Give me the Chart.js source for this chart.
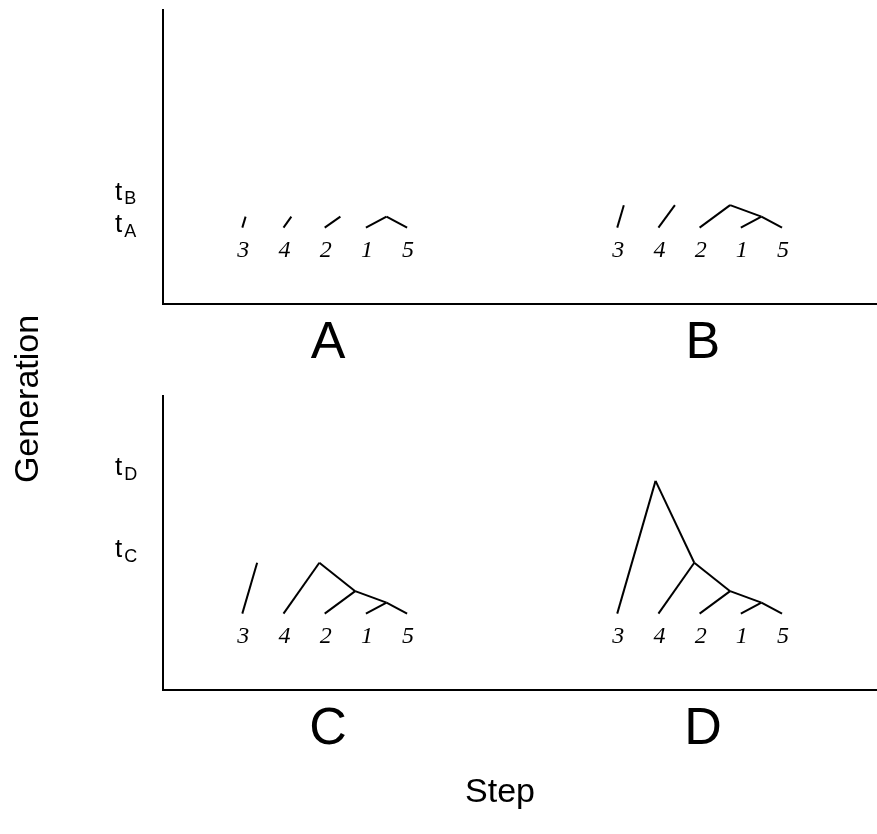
<!DOCTYPE html>
<html>
<head>
<meta charset="utf-8">
<title>Coalescent tree snapshots</title>
<script src="https://cdn.jsdelivr.net/npm/chart.js@4.4.1/dist/chart.umd.min.js"></script>
<style>
  html, body { margin: 0; padding: 0; background: #fff; }
  #wrap { position: relative; width: 877px; height: 834px; }
  #wrap canvas { position: absolute; left: 0; top: 0; }
</style>
</head>
<body>
<div id="wrap">
  <canvas id="upper" width="877" height="834"></canvas>
  <canvas id="lower" width="877" height="834"></canvas>
</div>
<script>
// Sample labels in the order they sit along the step axis
const leafLabels = ['3', '4', '2', '1', '5'];
const leafSlots = [1, 2, 3, 4, 5];

// Snapshot names and the generation each snapshot is taken at
const snapshotNames = ['A', 'B', 'C', 'D'];
const snapshotTimes = [1.1, 2.25, 5.1, 13.3];

// Lineages present in each snapshot: [slotFrom, genFrom, slotTo, genTo]
const branchesA = [
  [1, 0, 1.08, 1.1],
  [2, 0, 2.19, 1.1],
  [3, 0, 3.38, 1.1],
  [4, 0, 4.5, 1.1],
  [5, 0, 4.5, 1.1]
];
const branchesB = [
  [1, 0, 1.16, 2.25],
  [2, 0, 2.4, 2.25],
  [3, 0, 3.74, 2.25],
  [4, 0, 4.5, 1.1],
  [5, 0, 4.5, 1.1],
  [4.5, 1.1, 3.74, 2.25]
];
const branchesC = [
  [1, 0, 1.36, 5.1],
  [2, 0, 2.87, 5.1],
  [3, 0, 3.74, 2.25],
  [3.74, 2.25, 2.87, 5.1],
  [4, 0, 4.5, 1.1],
  [5, 0, 4.5, 1.1],
  [4.5, 1.1, 3.74, 2.25]
];
const branchesD = [
  [1, 0, 1.93, 13.3],
  [2, 0, 2.87, 5.1],
  [2.87, 5.1, 1.93, 13.3],
  [3, 0, 3.74, 2.25],
  [3.74, 2.25, 2.87, 5.1],
  [4, 0, 4.5, 1.1],
  [5, 0, 4.5, 1.1],
  [4.5, 1.1, 3.74, 2.25]
];

// Shared axis ranges (slots along x, generations along y)
const X_MIN = -0.925, X_MAX = 16.405;
const Y_MIN = -7.65, Y_MAX = 21.8;
const RIGHT_OFFSET = 9.1;   // slot shift of the right-hand snapshot
const SANS = '"Liberation Sans", Arial, sans-serif';
const SERIF = '"Liberation Serif", "Times New Roman", serif';

function branchDatasets(branches, offset) {
  return branches.map(b => ({
    data: [{ x: b[0] + offset, y: b[1] }, { x: b[2] + offset, y: b[3] }],
    showLine: true,
    borderColor: '#000',
    borderWidth: 2,
    pointRadius: 0,
    fill: false,
    tension: 0
  }));
}

// Leaf numbers, snapshot letters and the t-marks on the generation axis
const treeText = {
  id: 'treeText',
  afterDraw(chart, args, opts) {
    const { ctx, chartArea, scales: { x, y } } = chart;
    ctx.save();
    ctx.fillStyle = '#000';
    const leafPx = y.getPixelForValue(0);
    opts.panels.forEach(p => {
      ctx.font = 'italic 24px ' + SERIF;
      ctx.textAlign = 'center';
      ctx.textBaseline = 'alphabetic';
      leafSlots.forEach((s, i) => {
        ctx.fillText(leafLabels[i], x.getPixelForValue(s + p.offset) + 1, leafPx + 29);
      });
      ctx.font = '52px ' + SANS;
      ctx.fillText(p.name, x.getPixelForValue(3.08 + p.offset), chartArea.bottom + 54);
    });

    // t labels, highest first; a label too close to the one above is moved down
    let prev = -Infinity;
    opts.times.slice().sort((a, b) => b.value - a.value).forEach(t => {
      let py = y.getPixelForValue(t.value) - 1;
      if (py - prev < 30) py = prev + 32.5;
      prev = py;
      const tx = chartArea.left - 48;
      ctx.textAlign = 'left';
      ctx.textBaseline = 'alphabetic';
      ctx.font = '26px ' + SANS;
      ctx.fillText('t', tx, py - 4.5);
      const w = ctx.measureText('t').width;
      ctx.font = '18px ' + SANS;
      ctx.fillText(t.sub, tx + w + 2, py);
    });

    if (opts.axisTitles) {
      ctx.font = '34px ' + SANS;
      ctx.textAlign = 'center';
      ctx.textBaseline = 'alphabetic';
      ctx.fillText('Step', 500, 802);
      ctx.translate(37.5, 399);
      ctx.rotate(-Math.PI / 2);
      ctx.fillText('Generation', 0, 0);
    }
    ctx.restore();
  }
};

function makeChart(canvasId, leftIdx, rightIdx, leftBranches, rightBranches, padding, axisTitles) {
  const axisCommon = {
    type: 'linear',
    grid: { display: false, drawTicks: false },
    ticks: { display: false },
    border: { display: true, color: '#000', width: 2 }
  };
  return new Chart(document.getElementById(canvasId), {
    type: 'scatter',
    data: {
      datasets: [
        ...branchDatasets(leftBranches, 0),
        ...branchDatasets(rightBranches, RIGHT_OFFSET)
      ]
    },
    options: {
      responsive: false,
      animation: false,
      events: [],
      layout: { padding: padding },
      scales: {
        x: { ...axisCommon, min: X_MIN, max: X_MAX },
        y: { ...axisCommon, min: Y_MIN, max: Y_MAX }
      },
      plugins: {
        legend: { display: false },
        tooltip: { enabled: false },
        treeText: {
          panels: [
            { name: snapshotNames[leftIdx], offset: 0 },
            { name: snapshotNames[rightIdx], offset: RIGHT_OFFSET }
          ],
          times: [
            { sub: snapshotNames[leftIdx], value: snapshotTimes[leftIdx] },
            { sub: snapshotNames[rightIdx], value: snapshotTimes[rightIdx] }
          ],
          axisTitles: axisTitles
        }
      }
    },
    plugins: [treeText]
  });
}

makeChart('upper', 0, 1, branchesA, branchesB, { left: 163, top: 10, right: 0, bottom: 530 }, false);
makeChart('lower', 2, 3, branchesC, branchesD, { left: 163, top: 396, right: 0, bottom: 144 }, true);
</script>
</body>
</html>
